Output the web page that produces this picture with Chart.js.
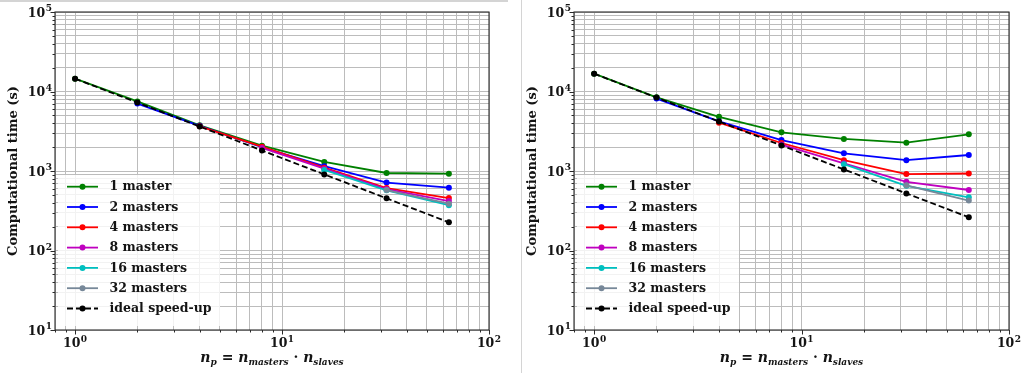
<!DOCTYPE html>
<html><head><meta charset="utf-8">
<script src="https://cdn.jsdelivr.net/npm/chart.js@4.4.1/dist/chart.umd.min.js"></script>
<style>
html,body{margin:0;padding:0;background:#fff;width:1022px;height:373px;overflow:hidden;}
canvas{position:absolute;top:0;}
#cl{left:0}#cr{left:511px}
.sep{position:absolute;background:#d4d4d4;z-index:5}
</style></head><body>
<canvas id="cl" width="511" height="373"></canvas>
<canvas id="cr" width="511" height="373"></canvas>
<div class="sep" style="left:0;top:0;width:508px;height:2px"></div>
<div class="sep" style="left:521px;top:0;width:1px;height:373px"></div>
<script>
// ---- data ----
const npValues = [1, 2, 4, 8, 16, 32, 64];
const seriesNames = ['1 master', '2 masters', '4 masters', '8 masters', '16 masters', '32 masters', 'ideal speed-up'];
const seriesColors = ['#008000', '#0000ff', '#ff0000', '#bf00bf', '#00bfbf', '#778899', '#000000'];

// left panel
const left1Master  = [14500, 7500, 3750, 2080, 1300, 944, 925];
const left2Masters = [null, 7050, 3700, 1990, 1150, 715, 617];
const left4Masters = [null, null, 3650, 2020, 1100, 610, 456];
const left8Masters = [null, null, null, 1950, 1070, 592, 418];
const left16Masters = [null, null, null, null, 1030, 572, 372];
const left32Masters = [null, null, null, null, null, 575, 388];
const leftIdeal    = [14500, 7250, 3625, 1812, 906, 453, 226];

// right panel
const right1Master  = [16750, 8450, 4800, 3070, 2530, 2270, 2890];
const right2Masters = [null, 8150, 4200, 2450, 1670, 1370, 1590];
const right4Masters = [null, null, 4050, 2250, 1370, 915, 930];
const right8Masters = [null, null, null, 2150, 1250, 730, 577];
const right16Masters = [null, null, null, null, 1220, 650, 467];
const right32Masters = [null, null, null, null, null, 660, 424];
const rightIdeal    = [16750, 8375, 4190, 2095, 1047, 523, 262];

// ticks
const xTickValues = [0.8, 0.9, 1, 2, 3, 4, 5, 6, 7, 8, 9, 10, 20, 30, 40, 50, 60, 70, 80, 90, 100];
const yTickValues = [10, 20, 30, 40, 50, 60, 70, 80, 90,
  100, 200, 300, 400, 500, 600, 700, 800, 900,
  1000, 2000, 3000, 4000, 5000, 6000, 7000, 8000, 9000,
  10000, 20000, 30000, 40000, 50000, 60000, 70000, 80000, 90000, 100000];
const xMajorTicks = [1, 10, 100];
const xMajorExps = ['0', '1', '2'];
const yMajorTicks = [10, 100, 1000, 10000, 100000];
const yMajorExps = ['1', '2', '3', '4', '5'];
const tickBase = '10';
const yTitle = 'Computational time (s)';
const xTitleParts = [['n', 'main'], ['p', 'sub'], [' = ', 'op'], ['n', 'main'], ['masters', 'sub'], [' \u00b7 ', 'op'], ['n', 'main'], ['slaves', 'sub']];

// ---- drawing ----
const FONT = '"DejaVu Serif", serif';
const TXT = '#141414';

function drawPow(ctx, x, y, align, exp) {
  ctx.font = 'bold 12.5px ' + FONT;
  const wb = ctx.measureText(tickBase).width;
  ctx.font = 'bold 9px ' + FONT;
  const we = ctx.measureText(exp).width;
  const tot = wb + we + 0.5;
  let sx = align === 'center' ? x - tot / 2 : x - tot;
  ctx.textAlign = 'left';
  ctx.textBaseline = 'alphabetic';
  ctx.font = 'bold 12.5px ' + FONT;
  ctx.fillText(tickBase, sx, y);
  ctx.font = 'bold 9px ' + FONT;
  ctx.fillText(exp, sx + wb + 0.5, y - 5.5);
}

const decor = {
  id: 'decor',
  afterDraw(chart) {
    const ctx = chart.ctx, a = chart.chartArea;
    const xs = chart.scales.x, ys = chart.scales.y;
    ctx.save();
    // frame
    ctx.strokeStyle = '#2a2a2a';
    ctx.lineWidth = 1.1;
    ctx.strokeRect(a.left, a.top, a.right - a.left, a.bottom - a.top);
    // tick marks
    ctx.lineWidth = 1;
    ctx.beginPath();
    xTickValues.forEach(v => {
      const px = Math.round(xs.getPixelForValue(v)) + 0.5;
      const len = xMajorTicks.includes(v) ? 4.5 : 2.5;
      ctx.moveTo(px, a.bottom); ctx.lineTo(px, a.bottom + len);
    });
    yTickValues.forEach(v => {
      const py = Math.round(ys.getPixelForValue(v)) + 0.5;
      const len = yMajorTicks.includes(v) ? 4.5 : 2.5;
      ctx.moveTo(a.left, py); ctx.lineTo(a.left - len, py);
    });
    ctx.stroke();
    // tick labels
    ctx.fillStyle = TXT;
    xMajorTicks.forEach((v, i) => drawPow(ctx, xs.getPixelForValue(v), a.bottom + 17, 'center', xMajorExps[i]));
    yMajorTicks.forEach((v, i) => drawPow(ctx, a.left - 3, ys.getPixelForValue(v) + 4.5, 'right', yMajorExps[i]));
    // y title
    ctx.save();
    ctx.translate(a.left - 41, (a.top + a.bottom) / 2);
    ctx.rotate(-Math.PI / 2);
    ctx.font = 'bold 13px ' + FONT;
    ctx.textAlign = 'center';
    ctx.textBaseline = 'middle';
    ctx.fillText(yTitle, 0, 0);
    ctx.restore();
    // x title
    const fonts = {main: 'italic bold 14px ' + FONT, sub: 'italic bold 9px ' + FONT, op: 'bold 14px ' + FONT};
    let tw = 0;
    xTitleParts.forEach(p => { ctx.font = fonts[p[1]]; tw += ctx.measureText(p[0]).width; });
    let cx = (a.left + a.right) / 2 - tw / 2;
    const by = a.bottom + 32;
    ctx.textAlign = 'left'; ctx.textBaseline = 'alphabetic';
    xTitleParts.forEach(p => {
      ctx.font = fonts[p[1]];
      ctx.fillText(p[0], cx, p[1] === 'sub' ? by + 3 : by);
      cx += ctx.measureText(p[0]).width;
    });
    // legend
    const L = a.left;
    ctx.fillStyle = 'rgba(255,255,255,0.8)';
    ctx.fillRect(L + 3, 175, 162, 151);
    chart.data.datasets.forEach((ds, i) => {
      const ry = 186.7 + 20.3 * i;
      ctx.strokeStyle = ds.borderColor;
      ctx.lineWidth = 1.8;
      ctx.setLineDash(ds.borderDash || []);
      ctx.beginPath(); ctx.moveTo(L + 12, ry); ctx.lineTo(L + 43, ry); ctx.stroke();
      ctx.setLineDash([]);
      ctx.fillStyle = ds.borderColor;
      ctx.beginPath(); ctx.arc(L + 27.5, ry, 3, 0, Math.PI * 2); ctx.fill();
      ctx.fillStyle = TXT;
      ctx.font = 'bold 12.5px ' + FONT;
      ctx.textAlign = 'left'; ctx.textBaseline = 'middle';
      ctx.fillText(ds.label, L + 54.5, ry + 0.5);
    });
    ctx.restore();
  }
};

function makeChart(id, pad, seriesList) {
  const datasets = seriesList.map((vals, i) => ({
    label: seriesNames[i],
    data: npValues.map((x, j) => (vals[j] == null ? null : {x: x, y: vals[j]})).filter(p => p),
    borderColor: seriesColors[i],
    backgroundColor: seriesColors[i],
    pointBackgroundColor: seriesColors[i],
    pointBorderColor: seriesColors[i],
    borderWidth: 1.8,
    pointRadius: 3,
    pointHoverRadius: 3,
    pointBorderWidth: 0,
    borderDash: i === seriesList.length - 1 ? [6, 3] : [],
    tension: 0,
    fill: false,
    order: seriesList.length - i
  }));
  const gridCfg = {color: '#bcbcbc', lineWidth: 1, drawTicks: false};
  return new Chart(document.getElementById(id), {
    type: 'line',
    data: {datasets},
    options: {
      responsive: false, animation: false, devicePixelRatio: 1,
      layout: {padding: pad},
      plugins: {legend: {display: false}, tooltip: {enabled: false}},
      events: [],
      scales: {
        x: {type: 'logarithmic', position: 'bottom', min: 0.8, max: 100,
            afterBuildTicks: s => { s.ticks = xTickValues.map(v => ({value: v})); },
            ticks: {display: false}, grid: gridCfg, border: {display: false}},
        y: {type: 'logarithmic', position: 'left', min: 10, max: 100000,
            afterBuildTicks: s => { s.ticks = yTickValues.map(v => ({value: v})); },
            ticks: {display: false}, grid: gridCfg, border: {display: false}}
      }
    },
    plugins: [decor]
  });
}

makeChart('cl', {left: 55, top: 12, right: 22, bottom: 43},
  [left1Master, left2Masters, left4Masters, left8Masters, left16Masters, left32Masters, leftIdeal]);
makeChart('cr', {left: 63, top: 12, right: 13, bottom: 43},
  [right1Master, right2Masters, right4Masters, right8Masters, right16Masters, right32Masters, rightIdeal]);
</script>
</body></html>
